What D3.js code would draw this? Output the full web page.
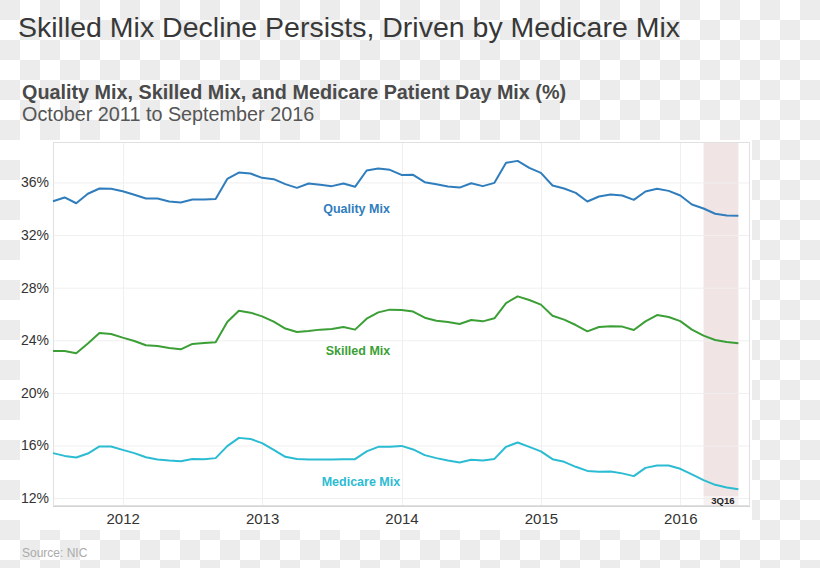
<!DOCTYPE html>
<html><head><meta charset="utf-8">
<script src="https://cdn.jsdelivr.net/npm/d3@7"></script>
<style>html,body{margin:0;padding:0;background:#fff;} svg{display:block;font-family:"Liberation Sans",Arial,Helvetica,sans-serif;}</style>
</head><body><svg id="c" width="820" height="568"></svg>
<script>
const titleText = "Skilled Mix Decline Persists, Driven by Medicare Mix";
const subtitleText = "Quality Mix, Skilled Mix, and Medicare Patient Day Mix (%)";
const periodText = "October 2011 to September 2016";
const sourceText = "Source: NIC";

// monthly values, Oct 2011 .. Sep 2016 (60 points)
const quality = [34.57,34.86,34.42,35.14,35.54,35.52,35.33,35.06,34.78,34.78,
  34.55,34.48,34.70,34.70,34.75,36.27,36.75,36.68,36.35,36.25,
  35.87,35.59,35.92,35.82,35.72,35.92,35.67,36.91,37.06,36.96,
  36.57,36.58,36.02,35.87,35.69,35.61,35.94,35.72,35.97,37.49,
  37.64,37.11,36.73,35.77,35.54,35.21,34.55,34.93,35.08,35.01,
  34.68,35.31,35.52,35.36,35.01,34.32,34.02,33.62,33.49,33.46];
const skilled = [23.18,23.18,23.01,23.75,24.55,24.48,24.20,23.95,23.62,23.57,
  23.41,23.31,23.72,23.79,23.85,25.39,26.25,26.10,25.82,25.42,
  24.89,24.63,24.71,24.81,24.86,25.01,24.81,25.64,26.12,26.33,
  26.31,26.18,25.72,25.49,25.39,25.24,25.54,25.44,25.67,26.83,
  27.34,27.06,26.71,25.87,25.57,25.16,24.68,25.01,25.06,25.04,
  24.78,25.44,25.92,25.77,25.46,24.81,24.35,24.02,23.87,23.77];
const medicare = [15.42,15.21,15.09,15.39,15.93,15.93,15.67,15.42,15.11,14.94,
  14.86,14.81,14.98,14.96,15.04,15.95,16.58,16.50,16.18,15.67,
  15.14,14.98,14.94,14.94,14.94,14.96,14.96,15.55,15.90,15.90,
  15.97,15.70,15.27,15.04,14.86,14.71,14.91,14.86,14.98,15.90,
  16.23,15.90,15.55,14.96,14.76,14.38,14.07,14.00,14.03,13.88,
  13.67,14.30,14.48,14.48,14.23,13.80,13.37,13.01,12.81,12.68];

const seriesNames = ["Quality Mix","Skilled Mix","Medicare Mix"];
const seriesColors = ["#2f7dbd","#3b9f36","#2bbcd3"];
const yTicks = [12,16,20,24,28,32,36];
const yearTickIndex = [6,18,30,42,54];
const yearLabels = ["2012","2013","2014","2015","2016"];
const highlightRange = [56,59];
const highlightLabel = "3Q16";

const svg = d3.select("#c");
const W = 820, H = 568;

// transparent-background checkerboard
const defs = svg.append("defs");
const pat = defs.append("pattern").attr("id","chk").attr("patternUnits","userSpaceOnUse")
  .attr("width",40).attr("height",40);
pat.append("rect").attr("width",40).attr("height",40).attr("fill","#ffffff");
pat.append("rect").attr("width",20).attr("height",20).attr("fill","#ececec");
pat.append("rect").attr("x",20).attr("y",20).attr("width",20).attr("height",20).attr("fill","#ececec");
svg.append("rect").attr("width",W).attr("height",H).attr("fill","url(#chk)");

// white chart panel
svg.append("rect").attr("x",20).attr("y",140).attr("width",732).attr("height",390).attr("fill","#fff");

// titles
svg.append("text").attr("x",18).attr("y",37).attr("font-size",28.5).attr("fill","#383838").text(titleText);
svg.append("text").attr("x",22).attr("y",99).attr("font-size",19.8).attr("font-weight","bold").attr("fill","#4a4a4a").text(subtitleText);
svg.append("text").attr("x",22).attr("y",121).attr("font-size",19.8).attr("fill","#555").text(periodText);
svg.append("text").attr("x",22).attr("y",557).attr("font-size",12).attr("fill","#aaa").text(sourceText);

const x = d3.scaleLinear().domain([0,60]).range([53,750]);
const y = d3.scaleLinear().domain([11.4,39]).range([506,143]);

const g = svg.append("g");
// highlight band
g.append("rect").attr("x",x(highlightRange[0])).attr("y",y.range()[1])
  .attr("width",x(highlightRange[1])-x(highlightRange[0])).attr("height",496-y.range()[1])
  .attr("fill","#f0e4e4");
g.append("rect").attr("x",x(highlightRange[0])).attr("y",496)
  .attr("width",x(highlightRange[1])-x(highlightRange[0])).attr("height",y.range()[0]-496)
  .attr("fill","#f8f1f1");

// grid
g.selectAll(".hg").data(yTicks).join("line").attr("x1",53).attr("x2",750)
  .attr("y1",d=>y(d)+0.5).attr("y2",d=>y(d)+0.5).attr("stroke","#efefef");
g.selectAll(".vg").data(yearTickIndex).join("line").attr("y1",143).attr("y2",506)
  .attr("x1",d=>Math.round(x(d))+0.5).attr("x2",d=>Math.round(x(d))+0.5).attr("stroke","#efefef");

// frame
g.append("rect").attr("x",53.5).attr("y",142.5).attr("width",696).attr("height",363)
  .attr("fill","none").attr("stroke","#e0e0e0");
g.append("line").attr("x1",53).attr("x2",750).attr("y1",506.5).attr("y2",506.5).attr("stroke","#d4d4d4");

// axes
const yAxis = d3.axisLeft(y).tickValues(yTicks).tickSize(0).tickPadding(0).tickFormat(d=>d+"%");
const ya = svg.append("g").attr("transform","translate(49,0)").call(yAxis);
ya.select(".domain").remove();
ya.selectAll("text").attr("font-size",14).attr("fill","#333").attr("font-family","Liberation Sans, Arial, sans-serif");

const xAxis = d3.axisBottom(x).tickValues(yearTickIndex).tickSize(0).tickPadding(0)
  .tickFormat((d,i)=>yearLabels[i]);
const xa = svg.append("g").attr("transform","translate(0,513)").call(xAxis);
xa.select(".domain").remove();
xa.selectAll("text").attr("font-size",15).attr("fill","#333").attr("font-family","Liberation Sans, Arial, sans-serif");

// lines
const line = d3.line().x((d,i)=>x(i)).y(d=>y(d));
[quality,skilled,medicare].forEach((s,k)=>{
  g.append("path").datum(s).attr("d",line).attr("fill","none")
    .attr("stroke",seriesColors[k]).attr("stroke-width",2).attr("stroke-linejoin","round");
});

// series labels (anchored in data coordinates: month index, value)
const labelPos = [[26.13,33.68],[26.25,22.88],[26.51,12.92]];
seriesNames.forEach((n,k)=>{
  svg.append("text").attr("x",x(labelPos[k][0])).attr("y",y(labelPos[k][1]))
    .attr("text-anchor","middle").attr("font-size",12.5).attr("font-weight","bold")
    .attr("fill",seriesColors[k]).text(n);
});

svg.append("text").attr("x",x((highlightRange[0]+highlightRange[1])/2)+2).attr("y",503.5)
  .attr("text-anchor","middle").attr("font-size",9.5).attr("font-weight","bold").attr("fill","#222")
  .text(highlightLabel);
</script></body></html>
